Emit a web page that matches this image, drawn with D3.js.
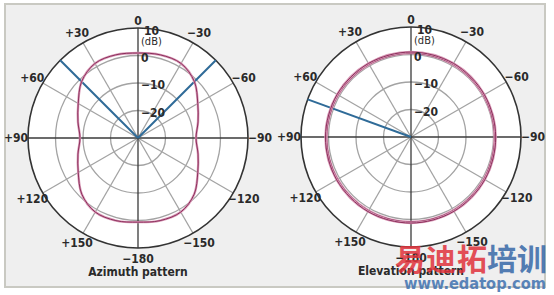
<!DOCTYPE html>
<html>
<head>
<meta charset="utf-8">
<script src="https://cdn.jsdelivr.net/npm/d3@7"></script>
<style>
  body { margin: 0; background: #fff; }
  text { font-family: 'DejaVu Sans Condensed', 'Liberation Sans Narrow', sans-serif; font-stretch: condensed; fill: #2a2a2a; }
</style>
</head>
<body>
<div id="chart"></div>
<script>
const width = 554;
const height = 295;

// angle ticks (degrees, + is counter-clockwise from the top)
const angleTicks = [0, 30, 60, 90, 120, 150, 180, -150, -120, -90, -60, -30];
const angleLabels = ['0', '+30', '+60', '+90', '+120', '+150', '\u2212180', '\u2212150', '\u2212120', '\u221290', '\u221260', '\u221230'];

// dB rings
const ringTicks = [-20, -10, 0, 10];
const ringLabels = ['\u221220', '\u221210', '0', '10'];

// azimuth pattern (dB) every 15 degrees
const azAngles = [0, 15, 30, 45, 60, 75, 90, 105, 120, 135, 150, 165, 180,
  -165, -150, -135, -120, -105, -90, -75, -60, -45, -30, -15];
const azValues = [0.9, 1.3, 1.3, -1.0, -4.9, -7.4, -8.9, -7.4, -4.9, -1.1, 1.1, 1.1, 0.6,
  1.1, 1.1, -1.1, -4.9, -7.4, -8.9, -7.4, -4.9, -1.0, 1.3, 1.3];

// elevation pattern (dB) every 30 degrees, two traces
const elAngles = [0, 30, 60, 90, 120, 150, 180, -150, -120, -90, -60, -30];
const elValuesA = [0.5, 0.5, 0.6, 0.7, 0.8, 0.9, 0.9, 0.8, 0.6, 0.4, 0.4, 0.5];
const elValuesB = [0.9, 0.9, 1.0, 1.1, 1.2, 1.3, 1.3, 1.2, 1.0, 0.8, 0.8, 0.9];

// highlighted beam lines
const azBeams = [45, -45];
const elBeams = [70];

const svg = d3.select('#chart').append('svg')
  .attr('width', width)
  .attr('height', height);

// panel frame
svg.append('rect')
  .attr('x', 5).attr('y', 4)
  .attr('width', 540).attr('height', 283)
  .attr('fill', '#efefef')
  .attr('stroke', '#c9c9c2')
  .attr('stroke-width', 2);

const R = 110;
const r = d3.scaleLinear().domain([-30, 10]).range([0, R]);
const rad = (a) => (-a * Math.PI) / 180;

function drawPolar(cx, cy, title, series, beams) {
  const g = svg.append('g').attr('transform', `translate(${cx},${cy})`);

  g.append('circle').attr('r', R).attr('fill', '#fff');

  // rings
  g.selectAll('.ring')
    .data(ringTicks.slice(0, 3))
    .enter()
    .append('circle')
    .attr('r', (d) => r(d))
    .attr('fill', 'none')
    .attr('stroke', '#a3a3a3')
    .attr('stroke-width', 1.3);

  // spokes
  g.selectAll('.spoke')
    .data(angleTicks.filter((a) => a % 90 !== 0))
    .enter()
    .append('line')
    .attr('x2', (d) => R * Math.sin(rad(d)))
    .attr('y2', (d) => -R * Math.cos(rad(d)))
    .attr('stroke', '#a3a3a3')
    .attr('stroke-width', 1.3);

  // main axes
  g.selectAll('.axis')
    .data([0, 90, 180, -90])
    .enter()
    .append('line')
    .attr('x2', (d) => R * Math.sin(rad(d)))
    .attr('y2', (d) => -R * Math.cos(rad(d)))
    .attr('stroke', '#3a3a3a')
    .attr('stroke-width', 1.3);

  g.append('circle')
    .attr('r', R)
    .attr('fill', 'none')
    .attr('stroke', '#333')
    .attr('stroke-width', 1.6);

  // beam lines
  g.selectAll('.beam')
    .data(beams)
    .enter()
    .append('line')
    .attr('x2', (d) => R * Math.sin(rad(d)))
    .attr('y2', (d) => -R * Math.cos(rad(d)))
    .attr('stroke', '#2f6b98')
    .attr('stroke-width', 2);

  // pattern curves
  const line = d3.lineRadial()
    .angle((d) => rad(d[0]))
    .radius((d) => r(d[1]))
    .curve(d3.curveCatmullRomClosed);

  series.forEach((s) => {
    const pts = s.angles.map((a, j) => [a, s.values[j]]);
    g.append('path')
      .datum(pts)
      .attr('d', line)
      .attr('fill', 'none')
      .attr('stroke', '#d99ab7')
      .attr('stroke-width', 2.4);
    g.append('path')
      .datum(pts)
      .attr('d', line)
      .attr('fill', 'none')
      .attr('stroke', '#8c2f5c')
      .attr('stroke-width', 1);
  });

  // angle labels
  g.selectAll('.alabel')
    .data(angleTicks)
    .enter()
    .append('text')
    .attr('x', (d) => (d === 0 ? 0 : 122 * Math.sin(rad(d))))
    .attr('y', (d) => (d === 0 ? -117 : -121 * Math.cos(rad(d))))
    .attr('dy', '0.35em')
    .attr('text-anchor', 'middle')
    .style('font-size', '12px')
    .style('font-weight', 'bold')
    .text((d, i) => angleLabels[i]);

  // dB labels
  g.selectAll('.rlabel')
    .data(ringTicks)
    .enter()
    .append('text')
    .attr('x', (d) => (d === 10 ? 6 : 3))
    .attr('y', (d) => -r(d) + (d === 10 ? 3 : 2))
    .attr('dy', '0.35em')
    .style('font-size', '12px')
    .style('font-weight', 'bold')
    .text((d, i) => ringLabels[i]);

  g.append('text')
    .attr('x', 3)
    .attr('y', -97)
    .attr('dy', '0.35em')
    .style('font-size', '11px')
    .text('(dB)');

  g.append('text')
    .attr('y', 134)
    .attr('dy', '0.35em')
    .attr('text-anchor', 'middle')
    .style('font-size', '12px')
    .style('font-weight', 'bold')
    .text(title);
}

drawPolar(138, 138, 'Azimuth pattern',
  [{ angles: azAngles, values: azValues }], azBeams);
drawPolar(411, 137, 'Elevation pattern',
  [{ angles: elAngles, values: elValuesA }, { angles: elAngles, values: elValuesB }], elBeams);

// watermark
const wm = svg.append('g').attr('opacity', 0.85);
wm.append('text')
  .attr('x', 395).attr('y', 270)
  .attr('textLength', 92)
  .style('font-family', "'Noto Sans CJK SC', sans-serif")
  .style('font-size', '30px')
  .style('font-weight', 'bold')
  .style('fill', '#e0333c')
  .text('易迪拓');
wm.append('text')
  .attr('x', 487).attr('y', 270)
  .attr('textLength', 60)
  .style('font-family', "'Noto Sans CJK SC', sans-serif")
  .style('font-size', '30px')
  .style('font-weight', 'bold')
  .style('fill', '#3768a8')
  .text('培训');
wm.append('text')
  .attr('x', 404).attr('y', 289)
  .attr('textLength', 142)
  .attr('lengthAdjust', 'spacingAndGlyphs')
  .style('font-family', "'DejaVu Sans', sans-serif")
  .style('font-size', '16px')
  .style('font-weight', 'bold')
  .style('fill', '#3f72b0')
  .text('www.edatop.com');
</script>
</body>
</html>
